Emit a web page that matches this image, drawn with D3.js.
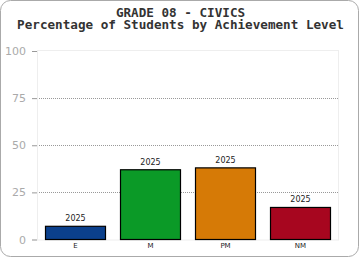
<!DOCTYPE html>
<html><head><meta charset="utf-8">
<script src="https://cdn.jsdelivr.net/npm/d3@7"></script>
<style>body{margin:0;background:#fff;}svg{display:block;}</style>
</head><body>
<script>
const categories = ["E", "M", "PM", "NM"];
const values = [7, 37, 38, 17];
const barLabels = ["2025", "2025", "2025", "2025"];
const colors = ["#0b408c", "#0b9a27", "#d67a06", "#a7061f"];
const yTicks = [0, 25, 50, 75, 100];
const titleLines = ["GRADE 08 - CIVICS", "Percentage of Students by Achievement Level"];

(function () {
const W = 360, H = 260;
const svg = d3.select("body").append("svg").attr("width", W).attr("height", H);

svg.append("rect").attr("x", 0.5).attr("y", 0.5).attr("width", W - 2).attr("height", H - 4)
  .attr("rx", 10).attr("ry", 10).attr("fill", "#fff").attr("stroke", "#aaa");

const title = svg.append("text").attr("text-anchor", "middle").attr("font-family", "DejaVu Sans Mono")
  .attr("font-weight", "bold").attr("font-size", "12px").attr("fill", "#333");
const tsp = title.selectAll("tspan").data(titleLines).join("tspan")
  .attr("x", 180.5).attr("y", (d, i) => 17 + i * 12.3).text(d => d);
// fit second line to the reference width (~327px)
const w2 = tsp.nodes()[1].getComputedTextLength();
if (w2 > 0) title.attr("font-size", (12 * 327 / w2).toFixed(2) + "px");

const pL = 37, pR = 338, pT = 50, pB = 239.5;
const x = d3.scaleBand().domain(categories).range([pL + 1, pR]).paddingInner(0.2).paddingOuter(0.1);
const y = d3.scaleLinear().domain([0, 100]).range([pB, pT + 1]);

// plot frame
svg.append("rect").attr("x", pL + 0.5).attr("y", pT + 0.5).attr("width", pR - pL)
  .attr("height", pB - pT).attr("fill", "none").attr("stroke", "#eee");

// gridlines
svg.selectAll("line.grid").data(yTicks.filter(t => t > 0 && t < 100)).join("line").attr("class", "grid")
  .attr("x1", pL).attr("x2", pR).attr("y1", d => Math.round(y(d)) + 0.5).attr("y2", d => Math.round(y(d)) + 0.5)
  .attr("stroke", "#999").attr("stroke-dasharray", "1,1");

// y axis
const yAxis = d3.axisLeft(y).tickValues(yTicks).tickSize(5).tickPadding(6);
const ga = svg.append("g").attr("transform", `translate(${pL},0)`).call(yAxis);
ga.select(".domain").attr("stroke", "#eee");
ga.selectAll(".tick line").attr("stroke", "#999");
ga.selectAll(".tick text").attr("fill", "#aaa").attr("font-family", "Verdana, DejaVu Sans").attr("font-size", "11px");

// bars
svg.selectAll("rect.bar").data(values).join("rect").attr("class", "bar")
  .attr("x", (d, i) => x(categories[i])).attr("width", x.bandwidth())
  .attr("y", d => y(d)).attr("height", d => pB - y(d))
  .attr("fill", (d, i) => colors[i]).attr("stroke", "#000").attr("stroke-width", 1.2);

// bar labels
svg.selectAll("text.bl").data(values).join("text").attr("class", "bl")
  .attr("x", (d, i) => x(categories[i]) + x.bandwidth() / 2).attr("y", d => y(d) - 5)
  .attr("text-anchor", "middle").attr("font-family", "DejaVu Sans").attr("font-size", "8px")
  .attr("fill", "#222").text((d, i) => barLabels[i]);

// x axis labels
const xAxis = d3.axisBottom(x).tickSize(0).tickPadding(4);
const gx = svg.append("g").attr("transform", `translate(0,${pB})`).call(xAxis);
gx.select(".domain").remove();
gx.selectAll(".tick text").attr("font-family", "DejaVu Sans").attr("font-size", "7px").attr("fill", "#222");
})();
</script>
</body></html>
